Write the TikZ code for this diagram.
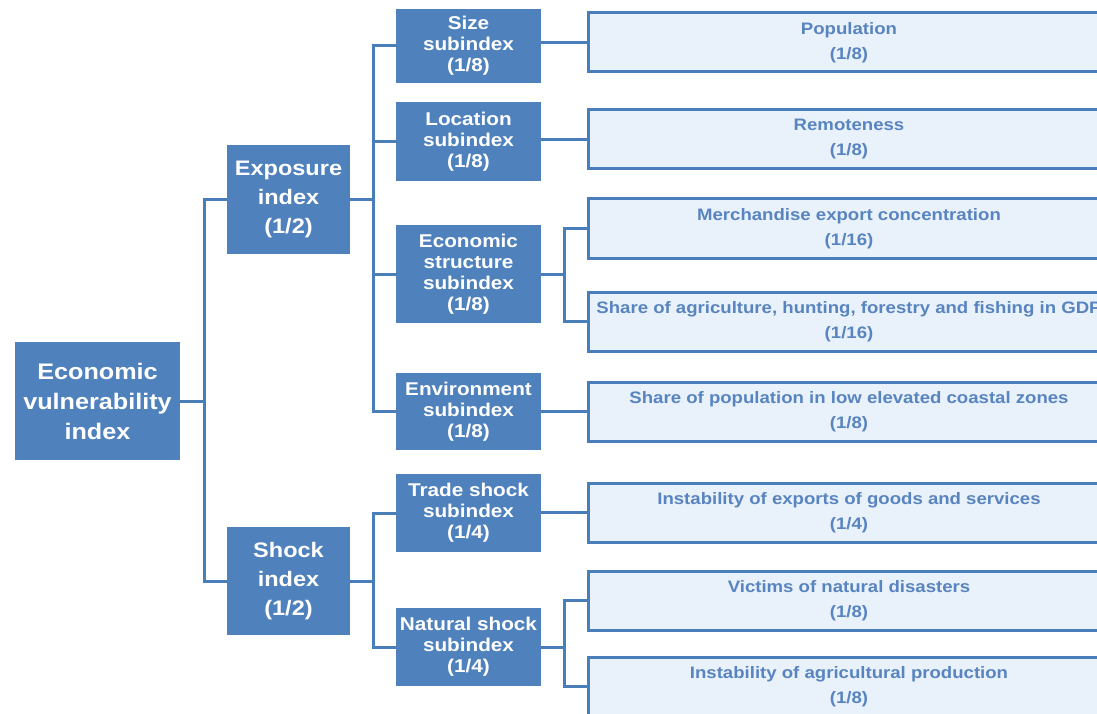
\documentclass[tikz,border=0pt]{standalone}
\usepackage{fontspec}
\setmainfont{Liberation Sans}
\newfontfamily\evwide[FakeStretch=1.12]{Liberation Sans}
\usetikzlibrary{positioning}

\definecolor{evblue}{RGB}{79,129,189}
\definecolor{evline}{RGB}{74,126,187}
\definecolor{evpale}{RGB}{233,241,251}
\definecolor{evtext}{RGB}{88,132,192}

\begin{document}
\begin{tikzpicture}[
    x=1pt, y=-1pt,
    index/.style={rectangle, fill=evblue, text=white, inner sep=0pt,
                  align=center, font=\evwide\bfseries\fontsize{21}{29}\selectfont},
    subindex/.style={rectangle, fill=evblue, text=white, inner sep=0pt,
                  minimum width=145pt, align=center,
                  font=\evwide\bfseries\fontsize{18.5}{21}\selectfont},
    leaf/.style={rectangle, draw=evline, line width=3pt, fill=evpale,
                 text=evtext, inner sep=0pt, minimum width=522pt,
                 minimum height=59pt, align=center,
                 font=\evwide\bfseries\fontsize{16.6}{25}\selectfont},
    link/.style={draw=evline, line width=3pt}
]
  \useasboundingbox (0,0) rectangle (1097,714);

  % left: overall index
  \node[index, minimum width=165pt, minimum height=118pt,
        font=\evwide\bfseries\fontsize{22.5}{30}\selectfont] (evi) at (97.5,401)
        {Economic\\vulnerability\\index};

  % middle: the two indices
  \node[index, minimum width=123pt, minimum height=109pt] (expo) at (288.5,199.5)
        {Exposure\\index\\(1/2)};
  \node[index, minimum width=123pt, minimum height=108pt] (shock) at (288.5,581)
        {Shock\\index\\(1/2)};

  % subindices
  \node[subindex, minimum height=74pt] (size) at (468.5,46) {Size\\subindex\\(1/8)};
  \node[subindex, minimum height=79pt] (loc) at (468.5,141.5) {Location\\subindex\\(1/8)};
  \node[subindex, minimum height=98pt] (econ) at (468.5,274) {Economic\\structure\\subindex\\(1/8)};
  \node[subindex, minimum height=77pt] (env) at (468.5,411.5) {Environment\\subindex\\(1/8)};
  \node[subindex, minimum height=78pt] (trade) at (468.5,513) {Trade shock\\subindex\\(1/4)};
  \node[subindex, minimum height=78pt] (nat) at (468.5,647) {Natural shock\\subindex\\(1/4)};

  % right: indicators (boxes run on past the right edge)
  \node[leaf] (pop) at (849,42.5) {Population\\(1/8)};
  \node[leaf] (remote) at (849,139.5) {Remoteness\\(1/8)};
  \node[leaf] (merch) at (849,228.5) {Merchandise export concentration\\(1/16)};
  \node[leaf] (agri) at (849,321.5) {Share of agriculture, hunting, forestry and fishing in GDP\\(1/16)};
  \node[leaf] (coast) at (849,411.5) {Share of population in low elevated coastal zones\\(1/8)};
  \node[leaf] (exports) at (849,512.5) {Instability of exports of goods and services\\(1/4)};
  \node[leaf] (victims) at (849,600.5) {Victims of natural disasters\\(1/8)};
  \node[leaf] (agprod) at (849,686.5) {Instability of agricultural production\\(1/8)};

  % branching points
  \coordinate (b0) at (204,401);
  \coordinate (b1) at (373,199.5);
  \coordinate (b2) at (373,581);
  \coordinate (b3) at (564,274);
  \coordinate (b4) at (564,647);

  \draw[link] (evi.east) -- (b0);
  \draw[link] (b0) |- (expo.west);
  \draw[link] (b0) |- (shock.west);

  \draw[link] (expo.east) -- (b1);
  \draw[link] (b1) |- (size.west);
  \draw[link] (b1) |- (loc.west);
  \draw[link] (b1) |- (econ.west);
  \draw[link] (b1) |- (env.west);

  \draw[link] (shock.east) -- (b2);
  \draw[link] (b2) |- (trade.west);
  \draw[link] (b2) |- (nat.west);

  \draw[link] (pop.west -| size.east) -- (pop.west);
  \draw[link] (remote.west -| loc.east) -- (remote.west);
  \draw[link] (coast.west -| env.east) -- (coast.west);
  \draw[link] (exports.west -| trade.east) -- (exports.west);

  \draw[link] (econ.east) -- (b3);
  \draw[link] (b3) |- (merch.west);
  \draw[link] (b3) |- (agri.west);

  \draw[link] (nat.east) -- (b4);
  \draw[link] (b4) |- (victims.west);
  \draw[link] (b4) |- (agprod.west);
\end{tikzpicture}
\end{document}
